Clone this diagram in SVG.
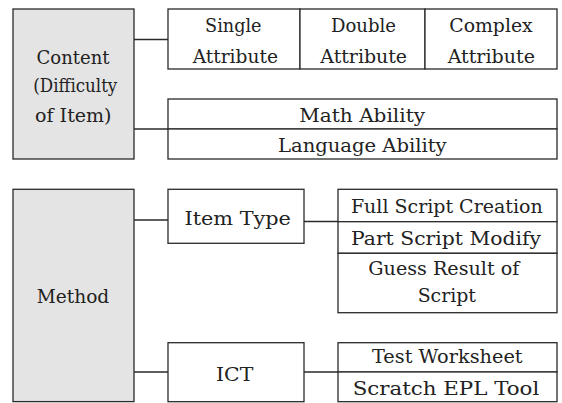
<svg xmlns="http://www.w3.org/2000/svg" width="562" height="403" viewBox="0 0 562 403">
<style>
.b{fill:#fff;stroke:#2a2a2a;stroke-width:1.3}
.g{fill:#e4e4e4;stroke:#2a2a2a;stroke-width:1.3}
.l{stroke:#2a2a2a;stroke-width:1.3;fill:none}
</style>
<rect width="562" height="403" fill="#fff"/>
<g id="connectors">
<line class="l" x1="134" y1="39.5" x2="168" y2="39.5"/>
<line class="l" x1="134" y1="129" x2="168" y2="129"/>
<line class="l" x1="134" y1="220" x2="168" y2="220"/>
<line class="l" x1="304" y1="221.5" x2="338" y2="221.5"/>
<line class="l" x1="134" y1="372" x2="168" y2="372"/>
<line class="l" x1="304" y1="372" x2="338" y2="372"/>
</g>
<g font-family="DejaVu Serif, Liberation Serif, serif" font-size="18.5" fill="#222" text-anchor="middle">
<g id="content">
<rect class="g" x="13" y="9" width="121" height="150"/>
<text x="73" y="63.5" textLength="73" lengthAdjust="spacingAndGlyphs">Content</text>
<text x="75.3" y="92" textLength="84" lengthAdjust="spacingAndGlyphs">(Difficulty</text>
<text x="73.3" y="121.5" textLength="76.5" lengthAdjust="spacingAndGlyphs">of Item)</text>
</g>
<g id="single">
<rect class="b" x="168" y="9" width="132" height="60"/>
<text x="233.3" y="32" textLength="56.5" lengthAdjust="spacingAndGlyphs">Single</text>
<text x="235.3" y="63.3" textLength="85.3" lengthAdjust="spacingAndGlyphs">Attribute</text>
</g>
<g id="double">
<rect class="b" x="300" y="9" width="125" height="60"/>
<text x="363.5" y="32" textLength="65" lengthAdjust="spacingAndGlyphs">Double</text>
<text x="363.7" y="63.3" textLength="86.7" lengthAdjust="spacingAndGlyphs">Attribute</text>
</g>
<g id="complex">
<rect class="b" x="425" y="9" width="132" height="60"/>
<text x="491" y="32" textLength="83.4" lengthAdjust="spacingAndGlyphs">Complex</text>
<text x="491.3" y="63.3" textLength="87.3" lengthAdjust="spacingAndGlyphs">Attribute</text>
</g>
<g id="math">
<rect class="b" x="168" y="99" width="389" height="30"/>
<text x="362.2" y="121.5" textLength="125.7" lengthAdjust="spacingAndGlyphs">Math Ability</text>
</g>
<g id="language">
<rect class="b" x="168" y="129" width="389" height="30"/>
<text x="362.3" y="151.5" textLength="168.5" lengthAdjust="spacingAndGlyphs">Language Ability</text>
</g>
<g id="method">
<rect class="g" x="13" y="189.3" width="121" height="212.3"/>
<text x="73" y="303.3" textLength="72.6" lengthAdjust="spacingAndGlyphs">Method</text>
</g>
<g id="itemtype">
<rect class="b" x="168" y="189.3" width="136" height="54"/>
<text x="237.7" y="225" textLength="106.5" lengthAdjust="spacingAndGlyphs">Item Type</text>
</g>
<g id="full">
<rect class="b" x="338" y="189.3" width="219" height="32.4"/>
<text x="446.8" y="213.3" textLength="191.7" lengthAdjust="spacingAndGlyphs">Full Script Creation</text>
</g>
<g id="part">
<rect class="b" x="338" y="221.7" width="219" height="31.6"/>
<text x="446" y="245" textLength="190" lengthAdjust="spacingAndGlyphs">Part Script Modify</text>
</g>
<g id="guess">
<rect class="b" x="338" y="253.3" width="219" height="59.4"/>
<text x="443.8" y="275" textLength="151" lengthAdjust="spacingAndGlyphs">Guess Result of</text>
<text x="446.8" y="301.7" textLength="58.3" lengthAdjust="spacingAndGlyphs">Script</text>
</g>
<g id="ict">
<rect class="b" x="168" y="342.7" width="136" height="59"/>
<text x="234.7" y="380.7" textLength="37.3" lengthAdjust="spacingAndGlyphs">ICT</text>
</g>
<g id="test">
<rect class="b" x="338" y="342.7" width="219" height="29.3"/>
<text x="447.3" y="363.3" textLength="150.7" lengthAdjust="spacingAndGlyphs">Test Worksheet</text>
</g>
<g id="scratch">
<rect class="b" x="338" y="372" width="219" height="29.7"/>
<text x="446" y="395" textLength="186.6" lengthAdjust="spacingAndGlyphs">Scratch EPL Tool</text>
</g>
</g>
</svg>
